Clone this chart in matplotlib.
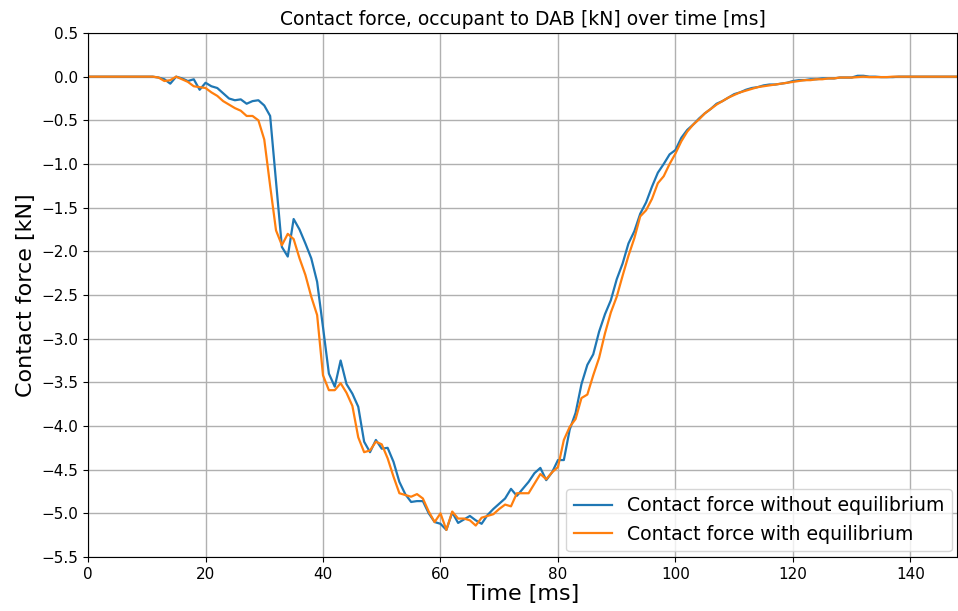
import numpy as np
import matplotlib
matplotlib.use("Agg")
import matplotlib.pyplot as plt

# Time axis [ms], sampled every 1 ms
time_ms = np.arange(0, 149)

# Contact force occupant -> DAB [kN], without equilibrium
force_no_eq = [
    0, 0, 0, 0, 0, 0, 0, 0, 0, 0, 0, 0,
    -0.01, -0.03, -0.08, 0.0, -0.02, -0.05, -0.03, -0.15,
    -0.07, -0.11, -0.13, -0.19, -0.25, -0.27, -0.26, -0.31, -0.28, -0.27,
    -0.33, -0.45, -1.20, -1.95, -2.06, -1.63, -1.75, -1.91, -2.08, -2.35,
    -2.87, -3.40, -3.55, -3.25, -3.52, -3.63, -3.78, -4.18, -4.30, -4.16,
    -4.26, -4.25, -4.41, -4.64, -4.78, -4.87, -4.86, -4.86, -5.00, -5.10,
    -5.12, -5.19, -4.99, -5.11, -5.07, -5.03, -5.08, -5.12, -5.02, -4.95,
    -4.89, -4.83, -4.72, -4.80, -4.72, -4.64, -4.54, -4.48, -4.62, -4.53,
    -4.39, -4.39, -4.04, -3.85, -3.52, -3.30, -3.18, -2.92, -2.72, -2.56,
    -2.32, -2.14, -1.91, -1.77, -1.57, -1.44, -1.26, -1.10, -1.00, -0.89,
    -0.84, -0.70, -0.61, -0.55, -0.48, -0.42, -0.37, -0.31, -0.28, -0.24,
    -0.20, -0.18, -0.15, -0.13, -0.12, -0.10, -0.09, -0.09, -0.08, -0.07,
    -0.05, -0.04, -0.04, -0.03, -0.03, -0.02, -0.02, -0.02, -0.01, -0.01,
    -0.01, 0.01, 0.01, 0.0, 0.0, -0.005, -0.005, -0.005, 0.0, 0.0,
    0.0, 0.0, 0.0, 0.0, 0.0, 0.0, 0.0, 0.0, 0.0,
]

# Contact force occupant -> DAB [kN], with equilibrium
force_eq = [
    0, 0, 0, 0, 0, 0, 0, 0, 0, 0, 0, 0,
    -0.01, -0.05, -0.04, 0.0, -0.03, -0.06, -0.11, -0.12,
    -0.13, -0.18, -0.22, -0.28, -0.32, -0.36, -0.39, -0.45, -0.45, -0.50,
    -0.72, -1.25, -1.76, -1.93, -1.80, -1.86, -2.08, -2.27, -2.52, -2.73,
    -3.42, -3.59, -3.59, -3.51, -3.62, -3.77, -4.13, -4.30, -4.28, -4.18,
    -4.21, -4.37, -4.58, -4.77, -4.79, -4.81, -4.78, -4.83, -4.98, -5.10,
    -5.00, -5.19, -4.98, -5.06, -5.06, -5.08, -5.14, -5.05, -5.03, -5.01,
    -4.95, -4.90, -4.92, -4.77, -4.77, -4.77, -4.66, -4.55, -4.61, -4.53,
    -4.47, -4.16, -4.01, -3.92, -3.68, -3.64, -3.42, -3.22, -2.94, -2.70,
    -2.52, -2.28, -2.05, -1.85, -1.60, -1.53, -1.40, -1.22, -1.14, -1.00,
    -0.88, -0.74, -0.63, -0.55, -0.49, -0.42, -0.37, -0.32, -0.28, -0.24,
    -0.21, -0.18, -0.16, -0.14, -0.12, -0.11, -0.10, -0.09, -0.08, -0.07,
    -0.06, -0.05, -0.04, -0.04, -0.03, -0.03, -0.02, -0.02, -0.01, -0.01,
    -0.01, -0.005, 0.0, -0.005, -0.005, -0.005, -0.005, 0.0, 0.0, 0.0,
    0.0, 0.0, 0.0, 0.0, 0.0, 0.0, 0.0, 0.0, 0.0,
]

series_labels = ["Contact force without equilibrium", "Contact force with equilibrium"]
y_ticks = np.arange(0.5, -5.51, -0.5)

fig = plt.figure(figsize=(9.58, 6.11), dpi=100)
ax = fig.add_axes([0.0919, 0.0884, 0.9075, 0.8576])

ax.plot(time_ms, force_no_eq, color="#1f77b4", lw=1.6, label=series_labels[0])
ax.plot(time_ms, force_eq, color="#ff7f0e", lw=1.6, label=series_labels[1])

ax.set_xlim(0, 148)
ax.set_ylim(-5.5, 0.5)
ax.set_yticks(y_ticks)
ax.set_xticks(np.arange(0, 141, 20))
ax.tick_params(labelsize=11)
ax.grid(True, color="#b0b0b0", lw=1)

ax.set_title("Contact force, occupant to DAB [kN] over time [ms]", fontsize=13.5)
ax.set_xlabel("Time [ms]", fontsize=16, labelpad=2)
ax.set_ylabel("Contact force [kN]", fontsize=16)
ax.legend(loc="lower right", fontsize=13.6, borderaxespad=0.3)

fig.savefig("out.png", dpi=100)
